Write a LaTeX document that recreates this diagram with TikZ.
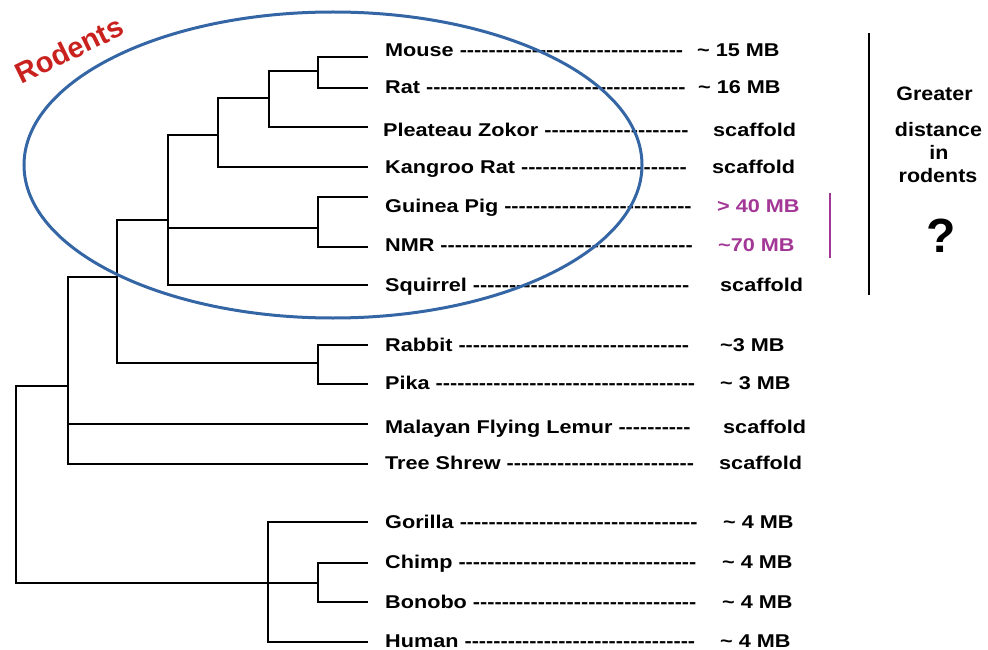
\documentclass[tikz,border=0pt]{standalone}
\usepackage{fontspec}
\setmainfont{Liberation Sans}[Ligatures=TeXOff]
\newfontfamily\listfont{Liberation Sans}[FakeStretch=1.17,Ligatures=TeXOff]
\newfontfamily\sidefont{Liberation Sans}[FakeStretch=1.1,Ligatures=TeXOff]
\definecolor{ellblue}{RGB}{52,101,164}
\definecolor{rodred}{RGB}{201,33,30}
\definecolor{mbpurple}{RGB}{163,55,150}
\begin{document}
\begin{tikzpicture}[x=1pt,y=-1pt,
  tree/.style={line width=2pt, black},
  lab/.style={anchor=base west, inner sep=0pt, font=\listfont\bfseries\fontsize{18.5}{20}\selectfont},
  val/.style={lab},
  pval/.style={lab, text=mbpurple},
  side/.style={anchor=base, inner sep=0pt, font=\sidefont\bfseries\fontsize{19.5}{22}\selectfont},
  bar/.style={line width=2pt}]
\useasboundingbox (0,0) rectangle (988,650);

% leaf line ends
\coordinate (l-mouse) at (368,56.7);
\coordinate (l-rat) at (368,88.3);
\coordinate (l-pleat) at (368,126.7);
\coordinate (l-kang) at (368,166.7);
\coordinate (l-guinea) at (368,196.7);
\coordinate (l-nmr) at (368,246.7);
\coordinate (l-squir) at (368,285);
\coordinate (l-rabbit) at (368,345);
\coordinate (l-pika) at (368,384.3);
\coordinate (l-malay) at (368,424.3);
\coordinate (l-tree) at (368,464);
\coordinate (l-gor) at (368,522.3);
\coordinate (l-chimp) at (368,563.3);
\coordinate (l-bono) at (368,602.3);
\coordinate (l-human) at (368,641.7);
% internal nodes
\coordinate (nMR) at (318,70.7);
\coordinate (nMRP) at (269,98.3);
\coordinate (nMRPK) at (218,135);
\coordinate (nGN) at (318,228.3);
\coordinate (nRod) at (168,220);
\coordinate (nRP) at (318,363.3);
\coordinate (nGlires) at (117,276.7);
\coordinate (nEu) at (68,385.7);
\coordinate (nRoot) at (16,582.7);
\coordinate (nCB) at (318,582.7);
\coordinate (nPrim) at (268,582.7);

% tree
\draw[tree] (l-mouse) -| (nMR) |- (l-rat);
\draw[tree] (nMR) -| (nMRP) |- (l-pleat);
\draw[tree] (nMRP) -| (nMRPK) |- (l-kang);
\draw[tree] (l-guinea) -| (nGN) |- (l-nmr);
\draw[tree] (nMRPK) -| (nRod) |- (l-squir);
\draw[tree] (nGN) -- (nGN -| nRod);
\draw[tree] (l-rabbit) -| (nRP) |- (l-pika);
\draw[tree] (nRod) -| (nGlires) |- (nRP);
\draw[tree] (nGlires) -| (nEu) |- (l-tree);
\draw[tree] (l-malay) -- (l-malay -| nEu);
\draw[tree] (nEu) -| (nRoot) -- (nCB);
\draw[tree] (l-chimp) -| (nCB) |- (l-bono);
\draw[tree] (l-gor) -| (nPrim) |- (l-human);

% labels
\node[lab] (t-mouse) at (385,56.5) {Mouse -------------------------------};
\node[lab] (t-rat) at (385,93.5) {Rat ------------------------------------};
\node[lab] (t-pleat) at (383,136.5) {Pleateau Zokor --------------------};
\node[lab] (t-kang) at (385,173) {Kangroo Rat -----------------------};
\node[lab] (t-guinea) at (385,212) {Guinea Pig --------------------------};
\node[lab] (t-nmr) at (385,251.5) {NMR -----------------------------------};
\node[lab] (t-squir) at (385,291.5) {Squirrel ------------------------------};
\node[lab] (t-rabbit) at (385,351.5) {Rabbit --------------------------------};
\node[lab] (t-pika) at (385,389.5) {Pika ------------------------------------};
\node[lab] (t-malay) at (385,433.5) {Malayan Flying Lemur ----------};
\node[lab] (t-tree) at (385,469.5) {Tree Shrew --------------------------};
\node[lab] (t-gor) at (385,528.5) {Gorilla ---------------------------------};
\node[lab] (t-chimp) at (385,568.5) {Chimp ---------------------------------};
\node[lab] (t-bono) at (385,608.5) {Bonobo -------------------------------};
\node[lab] (t-human) at (385,647.5) {Human --------------------------------};

% values
\node[val] (v-mouse) at (697,56.5) {\textasciitilde{} 15 MB};
\node[val] (v-rat) at (698,93.5) {\textasciitilde{} 16 MB};
\node[val] (v-pleat) at (713,136.5) {scaffold};
\node[val] (v-kang) at (712,173) {scaffold};
\node[pval] (v-guinea) at (717,212) {> 40 MB};
\node[pval] (v-nmr) at (718,251.5) {\textasciitilde{}70 MB};
\node[val] (v-squir) at (720,291.5) {scaffold};
\node[val] (v-rabbit) at (720,351.5) {\textasciitilde{}3 MB};
\node[val] (v-pika) at (720,389.5) {\textasciitilde{} 3 MB};
\node[val] (v-malay) at (723,433.5) {scaffold};
\node[val] (v-tree) at (719,469.5) {scaffold};
\node[val] (v-gor) at (723,528.5) {\textasciitilde{} 4 MB};
\node[val] (v-chimp) at (722,568.5) {\textasciitilde{} 4 MB};
\node[val] (v-bono) at (722,608.5) {\textasciitilde{} 4 MB};
\node[val] (v-human) at (720,647.5) {\textasciitilde{} 4 MB};

% bars
\coordinate (pb-top) at (830,193);
\coordinate (pb-bot) at (830,258);
\draw[bar, mbpurple] (pb-top) -- (pb-bot);
\coordinate (bb-top) at (869,33);
\coordinate (bb-bot) at (869,295);
\draw[bar, black] (bb-top) -- (bb-bot);

% side text
\node[side] (s1) at (934.5,101) {Greater};
\node[side] (s2) at (938.5,136.5) {distance};
\node[side] (s3) at (939,159.5) {in};
\node[side] (s4) at (938,182.5) {rodents};
\node[anchor=base, inner sep=0pt, font=\bfseries\fontsize{48}{50}\selectfont] (qm) at (941,252) {?};

% rodents ellipse
\coordinate (ell-c) at (333,165);
\draw[ellblue, line width=3pt] (ell-c) ellipse [x radius=309, y radius=153];
\node[rotate=26, text=rodred, inner sep=0pt, font=\bfseries\fontsize{29}{32}\selectfont] (rod) at (69,50) {Rodents};
\end{tikzpicture}
\end{document}
